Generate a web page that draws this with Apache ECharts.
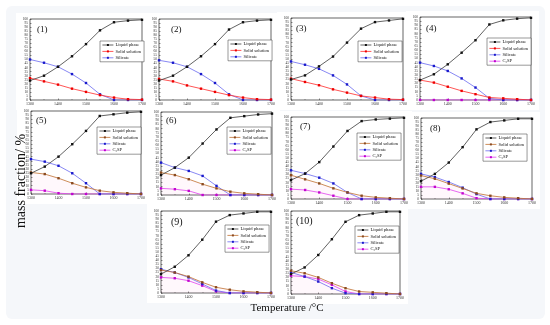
<!DOCTYPE html>
<html><head><meta charset="utf-8">
<script src="https://cdn.jsdelivr.net/npm/echarts@6/dist/echarts.min.js"></script>
<style>html,body{margin:0;padding:0;background:#fff}#c{width:550px;height:325px}</style>
</head><body><div id="c"></div>
<script>
// ---- data ----
const temps = [1300, 1350, 1400, 1450, 1500, 1550, 1600, 1650, 1700];
const xTicks = [1300, 1400, 1500, 1600, 1700];
const seriesNames = ['Liquid phase', 'Solid solution', 'Silicate', 'C\u2082SP'];
const panelLabels = ['(1)', '(2)', '(3)', '(4)', '(5)', '(6)', '(7)', '(8)', '(9)', '(10)'];
const xTitle = 'Temperature /\u00B0C';
const yTitle = 'mass fraction/ %';

const liquid1 = [24, 30, 41, 54, 69, 86, 96, 98, 99];
const solid1 = [27, 23, 19, 14, 10, 6, 3, 1, 0.5];
const silicate1 = [50, 46, 41, 32, 21, 7, 0, 0, 0];

const liquid2 = [24, 30, 41, 54, 69, 87, 96, 98, 99];
const solid2 = [26, 23, 18, 14, 10, 6, 3, 1, 0.5];
const silicate2 = [49, 46, 41, 32, 21, 7, 0, 0, 0];

const liquid3 = [25, 30, 41, 53, 70, 87, 95, 97, 99];
const solid3 = [26, 22, 18, 13, 9, 5, 3, 1, 0.5];
const silicate3 = [47, 43, 38, 30, 19, 5, 0, 0, 0];

const liquid4 = [24, 31, 43, 57, 72, 91, 96, 98, 99];
const solid4 = [24, 21, 16, 11, 7, 3, 2, 1, 0];
const silicate4 = [45, 41, 35, 26, 15, 2, 0, 0, 0];
const c2sp4 = [0, 0, 0, 0, 0, 0, 0, 0, 0];

const liquid5 = [25, 33, 45, 60, 76, 94, 96, 98, 99];
const solid5 = [26, 24, 19, 13, 8, 4, 2, 1, 0];
const silicate5 = [42, 39, 34, 25, 13, 0, 0, 0, 0];
const c2sp5 = [5, 4, 1, 0, 0, 0, 0, 0, 0];

const liquid6 = [24, 33, 45, 62, 79, 93, 95, 97, 98];
const solid6 = [27, 24, 19, 13, 8, 4, 2, 1, 0];
const silicate6 = [39, 33, 29, 23, 11, 0, 0, 0, 0];
const c2sp6 = [8, 7, 5, 0, 0, 0, 0, 0, 0];

const liquid7 = [23, 31, 45, 64, 83, 95, 97, 98, 99];
const solid7 = [29, 24, 19, 13, 8, 4, 2, 1, 0];
const silicate7 = [35, 31, 26, 19, 8, 0, 0, 0, 0];
const c2sp7 = [12, 11, 8, 4, 0, 0, 0, 0, 0];

const liquid8 = [22, 31, 45, 64, 86, 95, 97, 99, 99];
const solid8 = [29, 25, 19, 13, 7, 4, 2, 1, 0];
const silicate8 = [31, 27, 21, 14, 6, 0, 0, 0, 0];
const c2sp8 = [15, 15, 12, 7, 1, 0, 0, 0, 0];

const liquid9 = [23, 32, 46, 65, 87, 95, 97, 99, 99];
const solid9 = [28, 25, 20, 13, 7, 4, 2, 1, 0];
const silicate9 = [29, 25, 19, 11, 3, 0, 0, 0, 0];
const c2sp9 = [19, 18, 15, 9, 2, 0, 0, 0, 0];

const liquid10 = [24, 32, 47, 66, 87, 95, 97, 99, 99];
const solid10 = [28, 25, 20, 13, 7, 3, 2, 1, 0];
const silicate10 = [26, 21, 15, 7, 1, 0, 0, 0, 0];
const c2sp10 = [22, 21, 18, 11, 3, 0, 0, 0, 0];

// ---- layout (positions only) ----
const panelData = [
  [liquid1, solid1, silicate1, null],
  [liquid2, solid2, silicate2, null],
  [liquid3, solid3, silicate3, null],
  [liquid4, solid4, silicate4, c2sp4],
  [liquid5, solid5, silicate5, c2sp5],
  [liquid6, solid6, silicate6, c2sp6],
  [liquid7, solid7, silicate7, c2sp7],
  [liquid8, solid8, silicate8, c2sp8],
  [liquid9, solid9, silicate9, c2sp9],
  [liquid10, solid10, silicate10, c2sp10]
];
const gridPos = [
  [30, 19, 112, 81], [159, 19, 112, 81], [291, 18, 112, 82], [420, 17, 111, 83],
  [31, 111, 110, 83], [161, 112, 111, 83], [291, 117, 113, 82], [421, 118, 111, 81],
  [161, 211, 110, 82], [291, 211, 109, 83]
];
const legendPos = [
  [100, 41], [228, 40], [358, 41], [487, 38],
  [97, 127], [227, 127], [357, 133], [483, 134],
  [225, 225], [355, 226]
];
const labelPos = [
  [37, 25], [171, 25], [296, 24], [426, 24],
  [36, 116], [166, 116], [300, 122], [430, 124],
  [171, 217], [296, 216]
];

const FONT = '"Liberation Serif", "DejaVu Serif", serif';
const styles = {
  liquid: { line: '#3a3a3a', mark: '#111111' },
  solidA: { line: '#ff2a2a', mark: '#ee0000' },
  solidB: { line: '#c07030', mark: '#8a4a20' },
  silicate: { line: '#6a6af0', mark: '#1a1acc' },
  c2sp: { line: '#e040f0', mark: '#c000d0' }
};

const grids = [], xAxes = [], yAxes = [], series = [], legends = [], graphics = [];

graphics.push({ type: 'rect', z: -10, silent: true, shape: { x: 6, y: 6, width: 539, height: 313, r: 6 }, style: { fill: '#f5f7fa' } });

panelData.forEach((pd, i) => {
  const [l, t, w, h] = gridPos[i];
  graphics.push({ type: 'rect', z: -9, silent: true, shape: { x: l - 14, y: t - 6, width: w + 22, height: h + 16 }, style: { fill: '#ffffff' } });
  grids.push({ left: l, top: t, width: w, height: h, show: true, borderColor: '#222', borderWidth: 0.7, backgroundColor: '#fff' });
  xAxes.push({
    type: 'value', gridIndex: i, min: xTicks[0], max: xTicks[xTicks.length - 1], interval: 100,
    axisLine: { show: false }, splitLine: { show: false },
    axisTick: { inside: true, length: 1.5, lineStyle: { color: '#222', width: 0.5 } },
    minorTick: { show: true, splitNumber: 2, length: 1, lineStyle: { color: '#222', width: 0.4 } },
    axisLabel: { fontSize: 4, margin: 2, color: '#333', fontFamily: FONT, formatter: v => String(v) }
  });
  yAxes.push({
    type: 'value', gridIndex: i, min: 0, max: 100, interval: 5,
    axisLine: { show: false }, splitLine: { show: false },
    axisTick: { inside: true, length: 1.5, lineStyle: { color: '#222', width: 0.5 } },
    axisLabel: { fontSize: 3.5, margin: 2, color: '#333', fontFamily: FONT }
  });
  const newStyle = i >= 4;
  const st = [styles.liquid, newStyle ? styles.solidB : styles.solidA, styles.silicate, styles.c2sp];
  const legendData = [];
  pd.forEach((vals, k) => {
    if (!vals) return;
    const s = {
      type: 'line', name: seriesNames[k], xAxisIndex: i, yAxisIndex: i,
      data: temps.map((t, j) => [t, vals[j]]),
      symbol: 'rect', symbolSize: 2.4, showSymbol: true,
      lineStyle: { color: st[k].line, width: 0.8 },
      itemStyle: { color: st[k].mark },
      z: 5 - k
    };
    if (newStyle && k === 1) s.areaStyle = { color: 'rgba(255,120,200,0.07)' };
    series.push(s);
    legendData.push({ name: seriesNames[k], itemStyle: { color: st[k].mark }, lineStyle: { color: st[k].line, width: 0.8 } });
  });
  legends.push({
    data: legendData, orient: 'vertical', left: legendPos[i][0], top: legendPos[i][1],
    itemWidth: 11, itemHeight: 2.5, itemGap: 1.4, padding: [1.5, 3, 1.5, 2],
    borderColor: '#333', borderWidth: 0.5, backgroundColor: '#fff',
    selectedMode: false,
    textStyle: { fontSize: 4.6, fontFamily: FONT, color: '#111', padding: [0, 0, 0, -3] }
  });
  graphics.push({
    type: 'text', left: labelPos[i][0], top: labelPos[i][1], z: 20,
    style: { text: panelLabels[i], font: (i >= 8 ? '10px ' : '9px ') + FONT, fill: '#111' }
  });
});

graphics.push({
  type: 'text', x: 21, y: 181, rotation: Math.PI / 2, z: 20,
  style: { text: yTitle, font: '14px ' + FONT, fill: '#111', textAlign: 'center', textVerticalAlign: 'middle' }
});
graphics.push({
  type: 'text', x: 287, y: 308, z: 20,
  style: { text: xTitle, font: '11px ' + FONT, fill: '#111', textAlign: 'center', textVerticalAlign: 'middle' }
});

const chart = echarts.init(document.getElementById('c'), null, { renderer: 'canvas' });
chart.setOption({
  animation: false,
  backgroundColor: '#ffffff',
  grid: grids, xAxis: xAxes, yAxis: yAxes, series: series, legend: legends, graphic: graphics
});
</script></body></html>
